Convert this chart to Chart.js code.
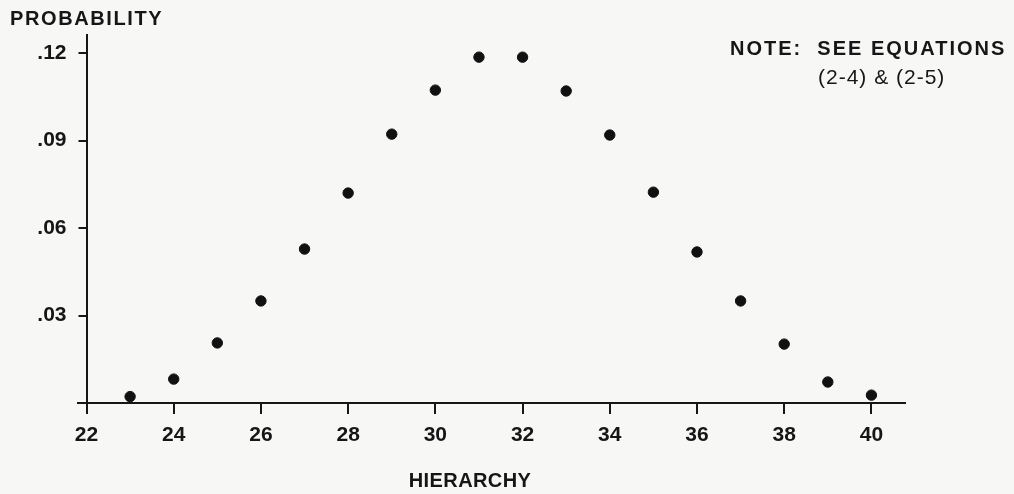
<!DOCTYPE html>
<html>
<head>
<meta charset="utf-8">
<script src="https://cdn.jsdelivr.net/npm/chart.js@4.4.0/dist/chart.umd.min.js"></script>
<style>
  html, body { margin: 0; padding: 0; background: #f7f7f6; }
  #wrap { width: 1014px; height: 494px; }
</style>
</head>
<body>
<div id="wrap"><canvas id="grafico" width="1014" height="494"></canvas></div>
<script>
// dados
const hierarquia = [23, 24, 25, 26, 27, 28, 29, 30, 31, 32, 33, 34, 35, 36, 37, 38, 39, 40];
const probabilidade = [0.0022, 0.0082, 0.0206, 0.035, 0.0528, 0.072, 0.0922, 0.1073, 0.1186, 0.1186,
    0.107, 0.0919, 0.0723, 0.0518, 0.035, 0.0202, 0.0072, 0.0027];
const ticksX = [22, 24, 26, 28, 30, 32, 34, 36, 38, 40];
const ticksY = [0, 0.03, 0.06, 0.09, 0.12];
const tituloY = 'PROBABILITY';
const tituloX = 'HIERARCHY';
const nota = ['NOTE:  SEE EQUATIONS', '(2-4) & (2-5)'];

const fonte = '"Liberation Sans", Arial, sans-serif';
const corTexto = '#161616';

const textos = {
    id: 'textos',
    afterDraw(chart) {
        const ctx = chart.ctx;
        const x = chart.scales.x, y = chart.scales.y;
        ctx.save();
        ctx.fillStyle = corTexto;
        ctx.textBaseline = 'middle';

        ctx.font = 'bold 20px ' + fonte;
        ctx.letterSpacing = '1.6px';
        ctx.textAlign = 'left';
        ctx.fillText(tituloY, 10, 19);

        ctx.textAlign = 'center';
        ctx.letterSpacing = '0.4px';
        ctx.fillText(tituloX, 470, 481);

        ctx.textAlign = 'left';
        ctx.letterSpacing = '2px';
        ctx.fillText(nota[0], 730, 49);
        ctx.font = '21px ' + fonte;
        ctx.letterSpacing = '1px';
        ctx.fillText(nota[1], 818, 78);

        // pedaço do eixo x à esquerda do eixo y
        ctx.strokeStyle = corTexto;
        ctx.lineWidth = 2;
        ctx.beginPath();
        ctx.moveTo(77, y.getPixelForValue(0));
        ctx.lineTo(x.left, y.getPixelForValue(0));
        ctx.stroke();
        ctx.restore();
    }
};

new Chart(document.getElementById('grafico').getContext('2d'), {
    type: 'scatter',
    data: {
        datasets: [{
            data: hierarquia.map((h, i) => ({ x: h, y: probabilidade[i] })),
            backgroundColor: '#111',
            borderColor: '#111',
            pointRadius: 5.2,
            pointHoverRadius: 5.2
        }]
    },
    options: {
        responsive: false,
        animation: false,
        layout: { padding: { left: 0, right: 109, top: 35, bottom: 0 } },
        plugins: { legend: { display: false }, tooltip: { enabled: false } },
        scales: {
            x: {
                type: 'linear',
                min: 22,
                max: 40.77,
                afterBuildTicks: (s) => { s.ticks = ticksX.map(v => ({ value: v })); },
                afterFit: (s) => { s.height = 91; },
                grid: { drawOnChartArea: false, drawTicks: true, tickLength: 11, color: corTexto, lineWidth: 2 },
                border: { display: true, color: corTexto, width: 2 },
                ticks: {
                    color: corTexto,
                    padding: 9,
                    maxRotation: 0,
                    font: { family: fonte, size: 21, weight: 'bold' }
                }
            },
            y: {
                min: 0,
                max: 0.1262,
                afterBuildTicks: (s) => { s.ticks = ticksY.map(v => ({ value: v })); },
                afterFit: (s) => { s.width = 86.5; },
                grid: {
                    drawOnChartArea: false, drawTicks: true, tickLength: 8, lineWidth: 2,
                    color: (c) => c.tick && c.tick.value === 0 ? 'rgba(0,0,0,0)' : corTexto
                },
                border: { display: true, color: corTexto, width: 2 },
                ticks: {
                    color: corTexto,
                    padding: 12,
                    font: { family: fonte, size: 21, weight: 'bold' },
                    callback: (v) => v === 0 ? '' : '.' + String(Math.round(v * 100)).padStart(2, '0')
                }
            }
        }
    },
    plugins: [textos]
});
</script>
</body>
</html>
